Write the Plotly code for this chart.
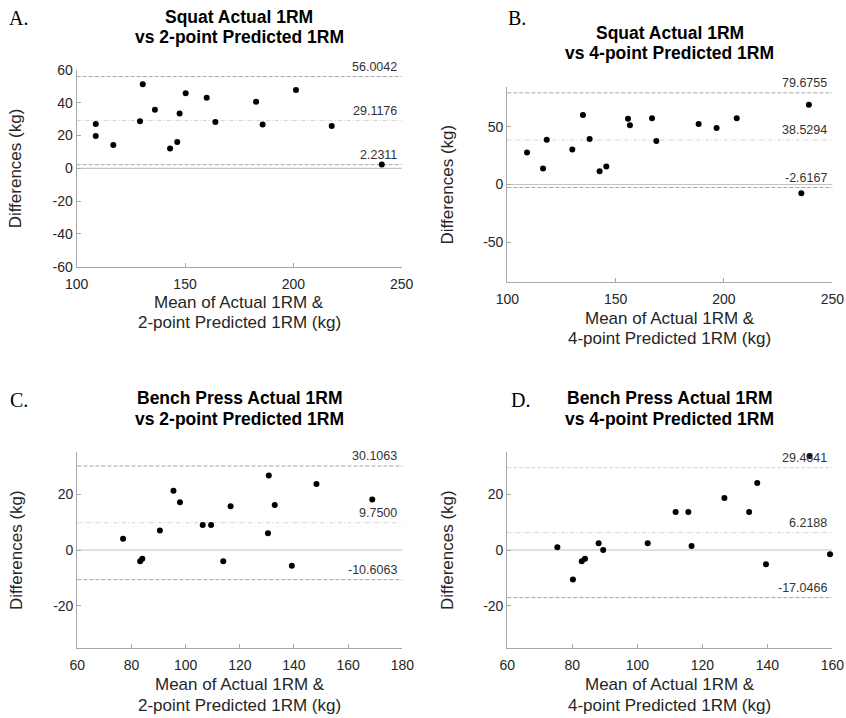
import plotly.graph_objects as go

W, H = 846, 718

# ---------------- data ----------------
a_x = [108.8, 108.8, 116.9, 129.2, 130.5, 136.1, 143.1, 146.4, 147.5, 150.3, 160.0, 164.0, 182.8, 185.8, 201.2, 217.7, 240.8]
a_y = [27.1, 19.8, 14.3, 28.7, 51.3, 35.8, 12.1, 16.1, 33.4, 45.8, 43.1, 28.3, 40.7, 26.7, 47.8, 25.9, 2.3]
a_lines = [56.0042, 29.1176, 2.2311]

b_x = [109.1, 116.5, 118.2, 130.0, 134.9, 138.0, 142.6, 145.7, 155.7, 156.6, 166.8, 168.8, 188.3, 196.6, 205.9, 239.2, 235.7]
b_y = [27.8, 13.9, 39.0, 30.4, 60.4, 39.5, 11.5, 15.6, 57.2, 51.4, 57.5, 37.8, 52.6, 49.1, 57.5, 69.4, -7.5]
b_lines = [79.6755, 38.5294, -2.6167]

c_x = [130.7, 148.3, 95.5, 97.9, 168.9, 116.6, 132.9, 106.3, 109.4, 90.5, 130.4, 76.9, 83.2, 84.0, 113.9, 139.2]
c_y = [26.7, 23.6, 21.2, 17.1, 18.1, 15.7, 16.1, 9.0, 9.0, 7.0, 6.0, 4.0, -4.0, -3.1, -4.0, -5.6]
c_lines = [30.1063, 9.7500, -10.6063]

d_x = [153.0, 136.9, 126.8, 111.8, 115.7, 134.4, 75.4, 80.2, 82.9, 83.9, 88.1, 89.5, 103.2, 116.7, 139.6, 159.3]
d_y = [33.7, 24.0, 18.6, 13.6, 13.6, 13.6, 0.95, -10.6, -4.0, -3.1, 2.4, 0.0, 2.4, 1.4, -5.1, -1.5]
d_lines = [29.4641, 6.2188, -17.0466]

line_labels_a = ["56.0042", "29.1176", "2.2311"]
line_labels_b = ["79.6755", "38.5294", "-2.6167"]
line_labels_c = ["30.1063", "9.7500", "-10.6063"]
line_labels_d = ["29.4641", "6.2188", "-17.0466"]

a_xticks = [100, 150, 200, 250]
a_yticks = [-60, -40, -20, 0, 20, 40, 60]
b_xticks = [100, 150, 200, 250]
b_yticks = [-50, 0, 50]
c_xticks = [60, 80, 100, 120, 140, 160, 180]
c_yticks = [-20, 0, 20]
d_xticks = [60, 80, 100, 120, 140, 160]
d_yticks = [-20, 0, 20]

titles = [
    ["Squat Actual 1RM", "vs 2-point Predicted 1RM"],
    ["Squat Actual 1RM", "vs 4-point Predicted 1RM"],
    ["Bench Press Actual 1RM", "vs 2-point Predicted 1RM"],
    ["Bench Press Actual 1RM", "vs 4-point Predicted 1RM"],
]
xlabels = [
    ["Mean of Actual 1RM &", "2-point Predicted 1RM (kg)"],
    ["Mean of Actual 1RM &", "4-point Predicted 1RM (kg)"],
    ["Mean of Actual 1RM &", "2-point Predicted 1RM (kg)"],
    ["Mean of Actual 1RM &", "4-point Predicted 1RM (kg)"],
]
ylabel = "Differences (kg)"
letters = ["A.", "B.", "C.", "D."]

# ---------------- layout styling ----------------
SANS = "Liberation Sans, Arial, Helvetica, sans-serif"
SERIF = "Liberation Serif, Times New Roman, serif"

panels = [
    dict(x=a_x, y=a_y, lines=a_lines, labels=line_labels_a, xr=[100, 250], xt=a_xticks,
         yr=[-60, 60], yt=a_yticks, box=(76.7, 401.7, 70, 266.7),
         ytitle_x=15, letter_pos=(7, 18), title_y=(17, 37), xt_y=(302, 322)),
    dict(x=b_x, y=b_y, lines=b_lines, labels=line_labels_b, xr=[100, 250], xt=b_xticks,
         yr=[-85, 85], yt=b_yticks, box=(507.3, 832.3, 86.7, 282.3),
         ytitle_x=447, letter_pos=(506, 18), title_y=(33.5, 53.5), xt_y=(318, 338)),
    dict(x=c_x, y=c_y, lines=c_lines, labels=line_labels_c, xr=[60, 180], xt=c_xticks,
         yr=[-35, 35], yt=c_yticks, box=(77.3, 402.3, 452.3, 647.7),
         ytitle_x=16, letter_pos=(8, 400), title_y=(398.5, 419.5), xt_y=(684, 705)),
    dict(x=d_x, y=d_y, lines=d_lines, labels=line_labels_d, xr=[60, 160], xt=d_xticks,
         yr=[-35, 35], yt=d_yticks, box=(507.3, 832.3, 452.3, 647.7),
         ytitle_x=447, letter_pos=(509, 400), title_y=(398.5, 419.5), xt_y=(684, 705)),
]

fig = go.Figure()
layout = dict(
    width=W, height=H, margin=dict(l=0, r=0, t=0, b=0, pad=0, autoexpand=False),
    paper_bgcolor="white", plot_bgcolor="white", showlegend=False,
    font=dict(family=SANS, color="#262626"),
)
shapes = []
annotations = []

AX_COLOR = "#a8a8a8"

for i, p in enumerate(panels):
    n = "" if i == 0 else str(i + 1)
    xa, ya = "x" + n, "y" + n
    x0, x1, y0, y1 = p["box"]
    fig.add_trace(go.Scatter(
        x=p["x"], y=p["y"], mode="markers", xaxis=xa, yaxis=ya,
        marker=dict(color="black", size=6), hoverinfo="skip", cliponaxis=False))
    layout["xaxis" + n] = dict(
        domain=[x0 / W, x1 / W], range=p["xr"], tickvals=p["xt"],
        ticktext=[str(v) for v in p["xt"]], anchor=ya, automargin=False,
        showgrid=False, zeroline=False, showline=True, linecolor=AX_COLOR, linewidth=1.2,
        ticks="inside", ticklen=4, tickcolor=AX_COLOR, tickfont=dict(size=14, color="#262626"),
        fixedrange=True, ticklabelstandoff=4)
    layout["yaxis" + n] = dict(
        domain=[1 - y1 / H, 1 - y0 / H], range=p["yr"], tickvals=p["yt"],
        ticktext=[str(v) for v in p["yt"]], anchor=xa, automargin=False,
        showgrid=False, zeroline=False, showline=True, linecolor=AX_COLOR, linewidth=1.2,
        ticks="inside", ticklen=4, tickcolor=AX_COLOR, tickfont=dict(size=14, color="#262626"),
        fixedrange=True)
    xdom = xa + " domain"
    shapes.append(dict(type="line", xref=xdom, yref=ya, x0=0, x1=1, y0=0, y1=0,
                       line=dict(color="#c4c4c4", width=1.2), layer="below"))
    upper, mean, lower = p["lines"]
    up_col = "#d0d0d0" if i == 3 else "#a6a6a6"
    shapes.append(dict(type="line", xref=xdom, yref=ya, x0=0, x1=1, y0=upper, y1=upper,
                       line=dict(color=up_col, width=1, dash="4px,2px"), layer="below"))
    shapes.append(dict(type="line", xref=xdom, yref=ya, x0=0, x1=1, y0=mean, y1=mean,
                       line=dict(color="#d2d2d2", width=1, dash="4px,2px,1px,2px"), layer="below"))
    shapes.append(dict(type="line", xref=xdom, yref=ya, x0=0, x1=1, y0=lower, y1=lower,
                       line=dict(color="#a6a6a6", width=1, dash="4px,2px"), layer="below"))
    for val, lab in zip(p["lines"], p["labels"]):
        annotations.append(dict(xref=xdom, yref=ya, x=1, y=val, text=lab, showarrow=False,
                                xanchor="right", yanchor="bottom", xshift=-3, yshift=1,
                                font=dict(size=12.5, color="#333333")))
    cx = (x0 + x1) / 2
    for t, ty in zip(titles[i], p["title_y"]):
        annotations.append(dict(xref="paper", yref="paper", x=cx / W, y=1 - ty / H, text="<b>" + t + "</b>",
                                showarrow=False, xanchor="center", yanchor="middle",
                                font=dict(size=17.5, color="black")))
    for t, ty in zip(xlabels[i], p["xt_y"]):
        annotations.append(dict(xref="paper", yref="paper", x=cx / W, y=1 - ty / H, text=t,
                                showarrow=False, xanchor="center", yanchor="middle",
                                font=dict(size=17, color="#262626")))
    annotations.append(dict(xref="paper", yref="paper", x=p["ytitle_x"] / W, y=1 - ((y0 + y1) / 2) / H,
                            text=ylabel, textangle=-90, showarrow=False, xanchor="center", yanchor="middle",
                            font=dict(size=17, color="#262626")))
    lx, ly = p["letter_pos"]
    annotations.append(dict(xref="paper", yref="paper", x=lx / W, y=1 - ly / H, text=letters[i],
                            showarrow=False, xanchor="left", yanchor="middle",
                            font=dict(size=20, family=SERIF, color="black")))

layout["shapes"] = shapes
layout["annotations"] = annotations
fig.update_layout(**layout)
fig.write_html("out.html", config={"displayModeBar": False},
               post_script="document.body.style.margin='0';document.body.style.overflow='hidden';")
